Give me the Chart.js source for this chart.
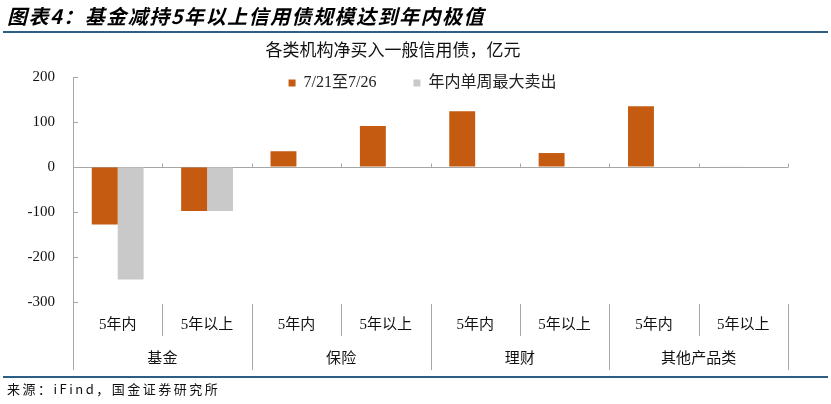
<!DOCTYPE html>
<html>
<head>
<meta charset="utf-8">
<script src="https://cdn.jsdelivr.net/npm/chart.js@4.4.1/dist/chart.umd.min.js"></script>
<style>
  body { margin: 0; background: #fff; }
  #page { position: relative; width: 831px; height: 404px; overflow: hidden; font-family: "Noto Sans CJK SC", sans-serif; }
  #cv { position: absolute; left: 0; top: 0; }
  .hd { position: absolute; left: 7px; top: 3px; font-size: 20px; font-weight: bold; font-style: italic; letter-spacing: 1.5px; line-height: 26px; white-space: nowrap; color: #000; }
  .rule { position: absolute; left: 3px; width: 825px; height: 2px; background: #2b5f86; }
  .ttl { position: absolute; left: 143px; top: 37px; width: 500px; text-align: center; font-size: 17px; line-height: 24px; color: #111; }
  .src { position: absolute; left: 7px; top: 380px; font-size: 13px; letter-spacing: 2.5px; line-height: 18px; color: #111; white-space: nowrap; }
</style>
</head>
<body>
<div id="page">
  <canvas id="cv" width="831" height="404"></canvas>
  <div class="hd">图表4：基金减持5年以上信用债规模达到年内极值</div>
  <div class="rule" style="top:31px"></div>
  <div class="ttl">各类机构净买入一般信用债，亿元</div>
  <div class="rule" style="top:376px"></div>
  <div class="src">来源：iFind，国金证券研究所</div>
</div>
<script>
const categories = ['5年内', '5年以上', '5年内', '5年以上', '5年内', '5年以上', '5年内', '5年以上'];
const groups = ['基金', '保险', '理财', '其他产品类'];
const weekFlow = [-128, -98, 35, 91, 124, 31, 135, 1];
const maxWeeklySell = [-250, -98, null, null, null, null, null, null];
const seriesNames = ['7/21至7/26', '年内单周最大卖出'];
const yTicks = [-300, -200, -100, 0, 100, 200];

const orange = '#c55a11';
const grey = '#c9c9c9';
const axisGrey = '#a6a6a6';
const serif = 'Liberation Serif, DejaVu Serif, Noto Sans CJK SC, serif';

// inner y ticks, zero-line ticks, two-level category separators and group names
const axisDecor = {
  id: 'axisDecor',
  afterLayout(chart) {
    // legend sits partly over the plot top; widen its clip box so text isn't cut
    const lg = chart.legend;
    if (lg) { lg.height += 24; lg.bottom += 24; }
  },
  afterDraw(chart) {
    const { ctx, chartArea: a, scales: { x, y } } = chart;
    const y0 = Math.round(y.getPixelForValue(0)) + 0.5;
    const subBottom = a.bottom + 34;
    const grpBottom = a.bottom + 68;
    ctx.save();
    ctx.strokeStyle = axisGrey;
    ctx.lineWidth = 1;
    ctx.beginPath();
    yTicks.forEach(v => {
      const py = Math.round(y.getPixelForValue(v)) + 0.5;
      ctx.moveTo(a.left, py);
      ctx.lineTo(a.left + 5, py);
    });
    ctx.moveTo(Math.round(a.left) + 0.5, a.bottom);
    ctx.lineTo(Math.round(a.left) + 0.5, grpBottom);
    for (let i = 1; i <= categories.length; i++) {
      const px = Math.round(x.getPixelForValue(i - 0.5)) + 0.5;
      ctx.moveTo(px, y0);
      ctx.lineTo(px, y0 - 4);
      ctx.moveTo(px, a.bottom + 2);
      ctx.lineTo(px, i % 2 === 0 ? grpBottom : subBottom);
    }
    ctx.stroke();
    ctx.fillStyle = '#111';
    ctx.font = '15px ' + serif;
    ctx.textAlign = 'center';
    ctx.textBaseline = 'middle';
    groups.forEach((g, i) => {
      ctx.fillText(g, x.getPixelForValue(i * 2 + 0.5), a.bottom + 57);
    });
    ctx.restore();
  }
};

new Chart(document.getElementById('cv'), {
  type: 'bar',
  data: {
    labels: categories,
    datasets: [
      { label: seriesNames[0], data: weekFlow, backgroundColor: orange },
      { label: seriesNames[1], data: maxWeeklySell, backgroundColor: grey }
    ]
  },
  options: {
    responsive: false,
    animation: false,
    devicePixelRatio: 1,
    layout: { padding: { top: 38, left: 14, right: 0, bottom: 34 } },
    datasets: { bar: { categoryPercentage: 0.58, barPercentage: 1 } },
    plugins: {
      title: { display: false },
      tooltip: { enabled: false },
      legend: {
        position: 'top',
        maxHeight: 39,
        labels: {
          boxWidth: 7,
          boxHeight: 7,
          padding: 37,
          color: '#222',
          font: { family: serif, size: 16 }
        }
      }
    },
    scales: {
      x: {
        grid: { display: false, drawTicks: false },
        border: { display: false },
        ticks: { color: '#111', font: { family: serif, size: 15 }, padding: 14, maxRotation: 0, autoSkip: false },
        afterFit(s) { s.height = 68; }
      },
      y: {
        min: -300,
        max: 200,
        ticks: { stepSize: 100, color: '#111', font: { family: serif, size: 15 }, padding: 18 },
        grid: {
          drawTicks: false,
          color: c => (c.tick && c.tick.value === 0 ? axisGrey : 'rgba(0,0,0,0)'),
          lineWidth: 1
        },
        border: { display: true, color: axisGrey, width: 1 },
        afterFit(s) { s.width = 59; }
      },
      spare: {
        position: 'right',
        display: true,
        grid: { display: false, drawTicks: false },
        border: { display: false },
        ticks: { display: false },
        afterFit(s) { s.width = 43; }
      }
    }
  },
  plugins: [axisDecor]
});
</script>
</body>
</html>
